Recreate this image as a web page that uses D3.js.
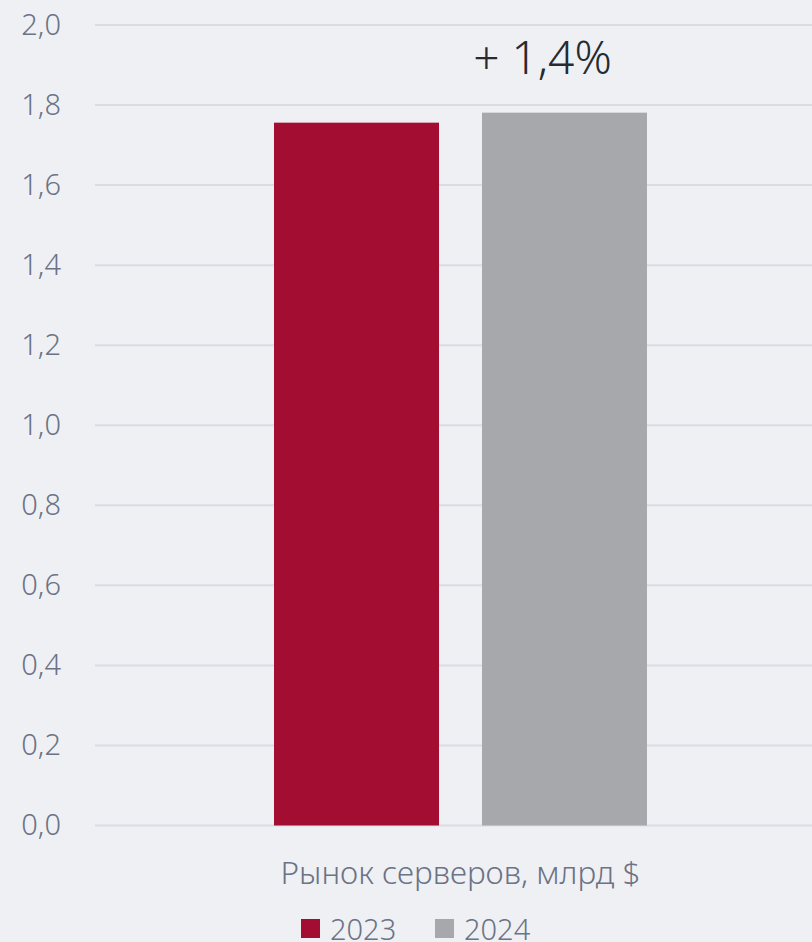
<!DOCTYPE html>
<html>
<head>
<meta charset="utf-8">
<script src="https://cdn.jsdelivr.net/npm/d3@7"></script>
<style>
  html, body { margin: 0; padding: 0; background: #eff0f4; }
  svg { display: block; }
  text { font-family: "Noto Sans", "Open Sans", sans-serif; }
</style>
</head>
<body>
<svg id="chart" width="812" height="942"></svg>
<script>
// Server market, billion $
const categories = ["Рынок серверов, млрд $"];
const seriesNames = ["2023", "2024"];
const values2023 = [1.756];
const values2024 = [1.781];
const yTicks = [0, 0.2, 0.4, 0.6, 0.8, 1.0, 1.2, 1.4, 1.6, 1.8, 2.0];
const growthLabel = "+ 1,4%";
const colors = ["#a20d31", "#a7a8ac"];

const seriesValues = [values2023, values2024];
const width = 812, height = 942;
const margin = { left: 95, right: -14, top: 25, bottom: 116.5 };

const svg = d3.select("#chart");
const ruLocale = d3.formatLocale({ decimal: ",", thousands: " ", grouping: [3], currency: ["", " $"] });
const fmt = ruLocale.format(".1f");

const y = d3.scaleLinear().domain([0, 2]).range([height - margin.bottom, margin.top]);
const x0 = d3.scaleBand().domain(categories)
  .range([margin.left, width - margin.right])
  .paddingInner(0).paddingOuter(0.48);
const x1 = d3.scaleBand().domain(seriesNames)
  .range([0, x0.bandwidth()])
  .paddingInner(0.2067).paddingOuter(0);

const labelColor = "#6b7386";

// Gridlines
svg.append("g")
  .selectAll("line")
  .data(yTicks)
  .join("line")
  .attr("x1", margin.left)
  .attr("x2", width - margin.right)
  .attr("y1", d => y(d))
  .attr("y2", d => y(d))
  .attr("stroke", "#dadce2")
  .attr("stroke-width", 2);

// Y axis labels
const yAxis = d3.axisLeft(y).tickValues(yTicks).tickFormat(fmt).tickSize(0).tickPadding(0);
const yAxisG = svg.append("g")
  .attr("transform", `translate(61,0)`)
  .call(yAxis);
yAxisG.select(".domain").remove();
yAxisG.selectAll("text")
  .attr("font-size", 29)
  .attr("font-weight", 300)
  .attr("fill", labelColor)
  .attr("font-family", "Noto Sans, sans-serif")
  .attr("dy", "0.32em");

// Bars
const groups = svg.append("g")
  .selectAll("g")
  .data(categories)
  .join("g")
  .attr("transform", d => `translate(${x0(d)},0)`);

groups.selectAll("rect")
  .data((d, i) => seriesNames.map((s, j) => ({ series: s, value: seriesValues[j][i], color: colors[j] })))
  .join("rect")
  .attr("x", d => x1(d.series))
  .attr("width", x1.bandwidth())
  .attr("y", d => y(d.value))
  .attr("height", d => y(0) - y(d.value))
  .attr("fill", d => d.color);

// Growth annotation above the 2024 bar
groups.append("text")
  .attr("x", x1("2024") + x1.bandwidth() / 2 - 22)
  .attr("y", 74)
  .attr("text-anchor", "middle")
  .attr("font-size", 46)
  .attr("font-weight", 350)
  .attr("fill", "#272a31")
  .text(growthLabel);

// Category label
const xAxis = d3.axisBottom(x0).tickSize(0).tickPadding(0);
const xAxisG = svg.append("g")
  .attr("transform", `translate(0,884)`)
  .call(xAxis);
xAxisG.select(".domain").remove();
xAxisG.selectAll("text")
  .attr("dy", 0)
  .attr("font-size", 31.5)
  .attr("font-weight", 300)
  .attr("fill", labelColor)
  .attr("font-family", "Noto Sans, sans-serif");

// Legend
const legendItems = [{ name: seriesNames[0], color: colors[0], x: 301 }, { name: seriesNames[1], color: colors[1], x: 435 }];
const legend = svg.append("g")
  .selectAll("g")
  .data(legendItems)
  .join("g")
  .attr("transform", d => `translate(${d.x},919)`);
legend.append("rect")
  .attr("width", 19).attr("height", 19)
  .attr("fill", d => d.color);
legend.append("text")
  .attr("x", 29).attr("y", 21)
  .attr("font-size", 29)
  .attr("font-weight", 300)
  .attr("fill", labelColor)
  .text(d => d.name);
</script>
</body>
</html>
